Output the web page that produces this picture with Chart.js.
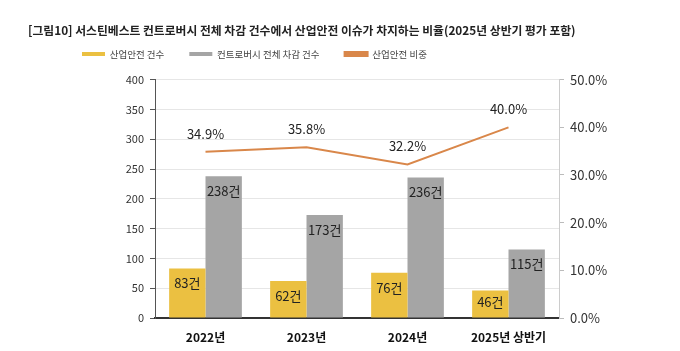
<!DOCTYPE html>
<html>
<head>
<meta charset="utf-8">
<script src="https://cdn.jsdelivr.net/npm/chart.js@4"></script>
<style>
html,body{margin:0;padding:0;background:#fff;}
#wrap{width:680px;height:351px;position:relative;}
</style>
</head>
<body>
<div id="wrap"><canvas id="c" width="680" height="351"></canvas></div>
<script>
const categories = ['2022년', '2023년', '2024년', '2025년 상반기'];
const safetyCounts = [83, 62, 76, 46];
const totalCounts = [238, 173, 236, 115];
const safetyShare = [34.9, 35.8, 32.2, 40.0];
const leftTicks = [0, 50, 100, 150, 200, 250, 300, 350, 400];
const rightTicks = [0, 10, 20, 30, 40, 50];

const FONT = "'Noto Sans CJK KR', 'Noto Sans', sans-serif";

const labelPlugin = {
  id: 'valueLabels',
  afterDatasetsDraw(chart) {
    const ctx = chart.ctx;
    ctx.save();
    ctx.fillStyle = '#222';
    ctx.font = "13px " + FONT;
    ctx.textAlign = 'center';
    ctx.textBaseline = 'middle';
    [0, 1].forEach(di => {
      const meta = chart.getDatasetMeta(di);
      meta.data.forEach((bar, i) => {
        const h = bar.base - bar.y;
        const y = bar.y + Math.min(15, h / 2 - 2);
        ctx.fillText(chart.data.datasets[di].data[i] + '건', bar.x, y);
      });
    });
    const lm = chart.getDatasetMeta(2);
    lm.data.forEach((pt, i) => {
      ctx.fillText(chart.data.datasets[2].data[i].toFixed(1) + '%', pt.x, pt.y - 18);
    });
    ctx.restore();
  }
};

const blockShift = {
  id: 'blockShift',
  afterLayout(chart) {
    const lg = chart.legend;
    const dx = 29, dy = -11;
    lg.left += dx; lg.right += dx;
    lg.top += dy; lg.bottom += dy;
    if (lg.legendHitBoxes) lg.legendHitBoxes.forEach(b => { b.left += dx; b.top += dy; });
    const tb = chart.titleBlock;
    if (tb) { tb.top += 2; tb.bottom += 2; }
  }
};

new Chart(document.getElementById('c'), {
  data: {
    labels: categories,
    datasets: [
      { type: 'bar', label: '산업안전 건수', data: safetyCounts, backgroundColor: '#EBC041', yAxisID: 'y', order: 2, categoryPercentage: 0.72, barPercentage: 1 },
      { type: 'bar', label: '컨트로버시 전체 차감 건수', data: totalCounts, backgroundColor: '#A5A5A5', yAxisID: 'y', order: 2, categoryPercentage: 0.72, barPercentage: 1 },
      { type: 'line', label: '산업안전 비중', data: safetyShare, borderColor: '#D9874A', backgroundColor: '#D9874A', borderWidth: 2, pointRadius: 0, yAxisID: 'y1', order: 1, tension: 0 }
    ]
  },
  options: {
    responsive: false,
    animation: false,
    devicePixelRatio: 1,
    layout: { padding: { left: 28, right: 20, top: 21, bottom: 0 } },
    plugins: {
      title: {
        display: true,
        text: '[그림10] 서스틴베스트 컨트로버시 전체 차감 건수에서 산업안전 이슈가 차지하는 비율(2025년 상반기 평가 포함)',
        align: 'start',
        color: '#222',
        font: { family: FONT, size: 11.8, weight: 'bold', lineHeight: 1.2 },
        padding: { top: 0, bottom: 0 },
        fullSize: true
      },
      legend: {
        display: true,
        align: 'start',
        fullSize: true,
        labels: {
          boxWidth: 23, boxHeight: 4, padding: 25,
          color: '#444',
          font: { family: FONT, size: 9.5 },
          sort: (a, b) => a.datasetIndex - b.datasetIndex
        }
      },
      tooltip: { enabled: false }
    },
    scales: {
      x: {
        grid: { display: false },
        border: { color: '#333', width: 2 },
        ticks: { color: '#111', font: { family: FONT, size: 12, weight: 'bold' }, padding: 4 },
        afterFit: s => { s.height = 33; }
      },
      y: {
        position: 'left',
        min: 0, max: 400,
        afterBuildTicks: s => { s.ticks = leftTicks.map(v => ({ value: v })); },
        afterFit: s => { s.width = 127; },
        grid: { color: '#E6E6E6', tickLength: 5, tickColor: '#555' },
        border: { color: '#555', width: 1 },
        ticks: { color: '#333', font: { family: FONT, size: 11 }, padding: 6 }
      },
      y1: {
        position: 'right',
        min: 0, max: 50,
        afterBuildTicks: s => { s.ticks = rightTicks.map(v => ({ value: v })); },
        afterFit: s => { s.width = 101; },
        grid: { drawOnChartArea: false, tickLength: 5, color: '#BBB' },
        border: { color: '#CCC', width: 1 },
        ticks: { color: '#333', font: { family: FONT, size: 13 }, padding: 6, callback: v => v.toFixed(1) + '%' }
      }
    }
  },
  plugins: [labelPlugin, blockShift]
});
</script>
</body>
</html>
